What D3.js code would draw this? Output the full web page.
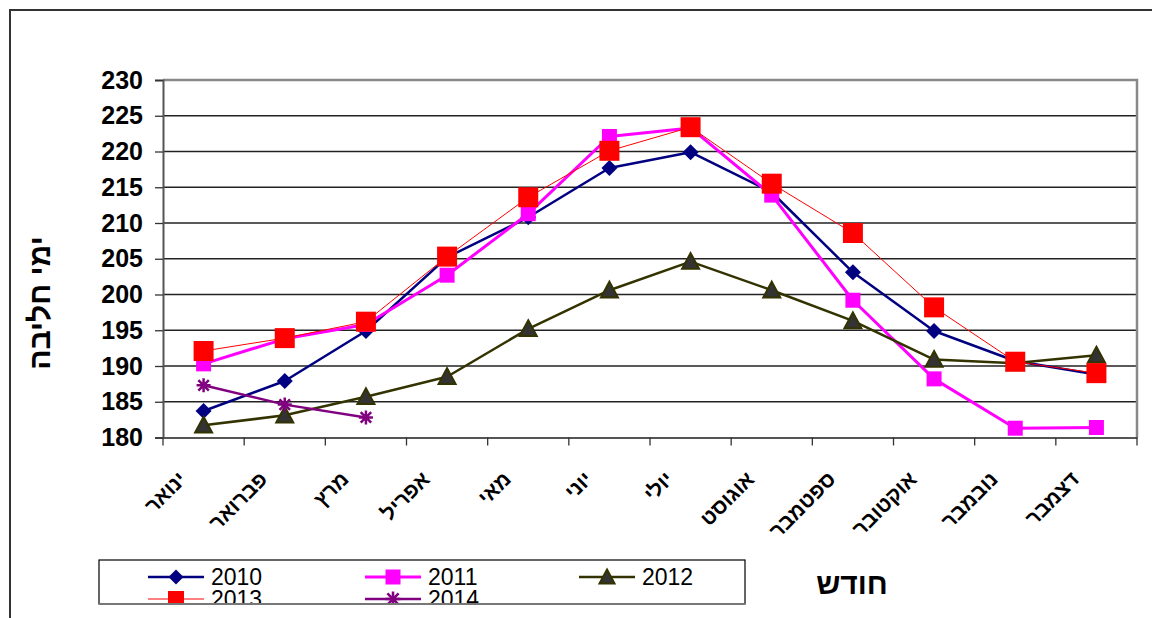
<!DOCTYPE html>
<html>
<head>
<meta charset="utf-8">
<script src="https://cdn.jsdelivr.net/npm/d3@7"></script>
<style>
  body { margin: 0; background: #fff; }
  svg { display: block; font-family: "Liberation Sans", Arial, sans-serif; }
</style>
</head>
<body>
<svg id="chart" width="1152" height="618"></svg>
<script>
// months (x categories)
var months = ["ינואר", "פברואר", "מרץ", "אפריל", "מאי", "יוני", "יולי", "אוגוסט", "ספטמבר", "אוקטובר", "נובמבר", "דצמבר"];

// values
var y2010 = [183.7, 187.9, 194.9, 205.2, 210.8, 217.7, 219.9, 214.3, 203.1, 194.9, 190.7, 188.8];
var y2011 = [190.3, 193.8, 195.8, 202.7, 211.3, 222.1, 223.3, 213.9, 199.2, 188.2, 181.3, 181.4];
var y2012 = [181.7, 183.1, 185.7, 188.5, 195.2, 200.6, 204.6, 200.6, 196.3, 190.9, 190.4, 191.5];
var y2013 = [192.1, 193.9, 196.2, 205.3, 213.6, 220.1, 223.4, 215.5, 208.6, 198.2, 190.6, 189.0];
var y2014 = [187.3, 184.6, 182.8];

var yTicks = [180, 185, 190, 195, 200, 205, 210, 215, 220, 225, 230];

var series = [
  { name: "2010", values: y2010, color: "#000080", width: 2.5, marker: "diamond", size: 16, fill: "#000080" },
  { name: "2011", values: y2011, color: "#FF00FF", width: 3, marker: "square", size: 15, fill: "#FF00FF" },
  { name: "2012", values: y2012, color: "#333300", width: 2.5, marker: "triangle", size: 17, fill: "#333333" },
  { name: "2013", values: y2013, color: "#FF0000", width: 1, marker: "square", size: 20, fill: "#FF0000" },
  { name: "2014", values: y2014, color: "#800080", width: 2.5, marker: "star", size: 14, fill: "#800080" }
];

var svg = d3.select("#chart");
var plotL = 163, plotR = 1137, plotT = 80, plotB = 437.5;

var x = d3.scaleBand().domain(months).range([plotL, plotR]);
var y = d3.scaleLinear().domain([180, 230]).range([plotB, plotT]);

// outer chart frame
svg.append("path")
  .attr("d", "M10,618 L10,10 L1152,10")
  .attr("fill", "none")
  .attr("stroke", "#333")
  .attr("stroke-width", 2);

// gridlines
svg.append("g").selectAll("line")
  .data(yTicks.slice(1))
  .enter().append("line")
  .attr("x1", plotL).attr("x2", plotR)
  .attr("y1", function(d) { return y(d); })
  .attr("y2", function(d) { return y(d); })
  .attr("stroke", "#222")
  .attr("stroke-width", 1.3);

// plot border top/right
svg.append("path")
  .attr("d", "M" + plotL + "," + plotT + " L" + plotR + "," + plotT + " L" + plotR + "," + plotB)
  .attr("fill", "none")
  .attr("stroke", "#888")
  .attr("stroke-width", 2.5);

// y axis
var yAxis = svg.append("g")
  .attr("transform", "translate(" + plotL + ",0)")
  .call(d3.axisLeft(y).tickValues(yTicks).tickSize(8).tickPadding(12));
yAxis.select(".domain").attr("stroke", "#555").attr("stroke-width", 2);
yAxis.selectAll(".tick line").attr("stroke", "#333").attr("stroke-width", 1.3);
yAxis.selectAll("text")
  .attr("font-family", "Liberation Sans, Arial, sans-serif")
  .attr("font-size", 25)
  .attr("font-weight", "bold")
  .attr("fill", "#000");

// x axis
var xAxis = svg.append("g")
  .attr("transform", "translate(0," + plotB + ")")
  .call(d3.axisBottom(x).tickSize(0).tickFormat(""));
xAxis.select(".domain").attr("stroke", "#555").attr("stroke-width", 2);
xAxis.selectAll(".tick").remove();

// category boundary ticks
var bounds = months.map(function(m) { return x(m); }).concat([plotR]);
svg.append("g").selectAll("line")
  .data(bounds)
  .enter().append("line")
  .attr("x1", function(d) { return d; })
  .attr("x2", function(d) { return d; })
  .attr("y1", plotB).attr("y2", plotB + 8)
  .attr("stroke", "#333")
  .attr("stroke-width", 1.3);

// rotated month labels
svg.append("g").selectAll("text")
  .data(months)
  .enter().append("text")
  .attr("transform", function(d) {
    return "translate(" + (x(d) + x.bandwidth() / 2 - 16) + "," + (plotB + 43) + ") rotate(-45)";
  })
  .attr("text-anchor", "end")
  .attr("font-size", 21)
  .attr("font-weight", "bold")
  .attr("fill", "#000")
  .text(function(d) { return d; });

// y title
svg.append("text")
  .attr("transform", "translate(50,303) rotate(-90)")
  .attr("text-anchor", "middle")
  .attr("font-size", 30)
  .attr("font-weight", "bold")
  .text("ימי חליבה");

// x title
svg.append("text")
  .attr("x", 852).attr("y", 594)
  .attr("text-anchor", "middle")
  .attr("font-size", 30)
  .attr("font-weight", "bold")
  .text("חודש");

function markerPath(type, s) {
  var h = s / 2;
  if (type === "diamond") return "M0," + (-h) + " L" + h + ",0 L0," + h + " L" + (-h) + ",0 Z";
  if (type === "square") return "M" + (-h) + "," + (-h) + " h" + s + " v" + s + " h" + (-s) + " Z";
  if (type === "triangle") return "M0," + (-h) + " L" + h + "," + (h * 0.85) + " L" + (-h) + "," + (h * 0.85) + " Z";
  // asterisk
  var a = h * 0.75;
  return "M" + (-h) + ",0 H" + h + " M0," + (-h) + " V" + h +
    " M" + (-a) + "," + (-a) + " L" + a + "," + a + " M" + (-a) + "," + a + " L" + a + "," + (-a);
}

function drawMarker(g, s, cx, cy, size) {
  var p = g.append("path")
    .attr("transform", "translate(" + cx + "," + cy + ")")
    .attr("d", markerPath(s.marker, size));
  if (s.marker === "star") {
    p.attr("fill", "none").attr("stroke", s.color).attr("stroke-width", 2.5);
  } else if (s.marker === "triangle") {
    p.attr("fill", s.fill).attr("stroke", s.color).attr("stroke-width", 2);
  } else {
    p.attr("fill", s.fill).attr("stroke", "none");
  }
}

var line = d3.line()
  .x(function(d, i) { return x(months[i]) + x.bandwidth() / 2; })
  .y(function(d) { return y(d); });

series.forEach(function(s) {
  var g = svg.append("g");
  g.append("path")
    .attr("d", line(s.values))
    .attr("fill", "none")
    .attr("stroke", s.color)
    .attr("stroke-width", s.width)
    .attr("stroke-linejoin", "round");
  s.values.forEach(function(v, i) {
    drawMarker(g, s, x(months[i]) + x.bandwidth() / 2, y(v), s.size);
  });
});

// legend (second row is cut off by the box, as in the original)
var legX = 99, legY = 560, legW = 646, legH = 44;
svg.append("defs").append("clipPath").attr("id", "legclip")
  .append("rect").attr("x", legX).attr("y", legY).attr("width", legW).attr("height", legH);
var leg = svg.append("g").attr("clip-path", "url(#legclip)");
var colX = [148, 365, 579];
var rowY = [577, 599];
series.forEach(function(s, i) {
  var cx = colX[i % 3], cy = rowY[Math.floor(i / 3)];
  var lg = leg.append("g");
  lg.append("line")
    .attr("x1", cx).attr("x2", cx + 56)
    .attr("y1", cy).attr("y2", cy)
    .attr("stroke", s.color)
    .attr("stroke-width", s.width);
  drawMarker(lg, s, cx + 28, cy, s.marker === "square" && s.name === "2013" ? 16 : 15);
  lg.append("text")
    .attr("x", cx + 63).attr("y", cy + 8)
    .attr("font-size", 23)
    .attr("fill", "#000")
    .text(s.name);
});
svg.append("rect")
  .attr("x", legX).attr("y", legY).attr("width", legW).attr("height", legH)
  .attr("fill", "none").attr("stroke", "#000").attr("stroke-width", 1.2);
svg.append("line")
  .attr("x1", legX).attr("x2", legX + legW)
  .attr("y1", legY + legH).attr("y2", legY + legH)
  .attr("stroke", "#777").attr("stroke-width", 2);
</script>
</body>
</html>
